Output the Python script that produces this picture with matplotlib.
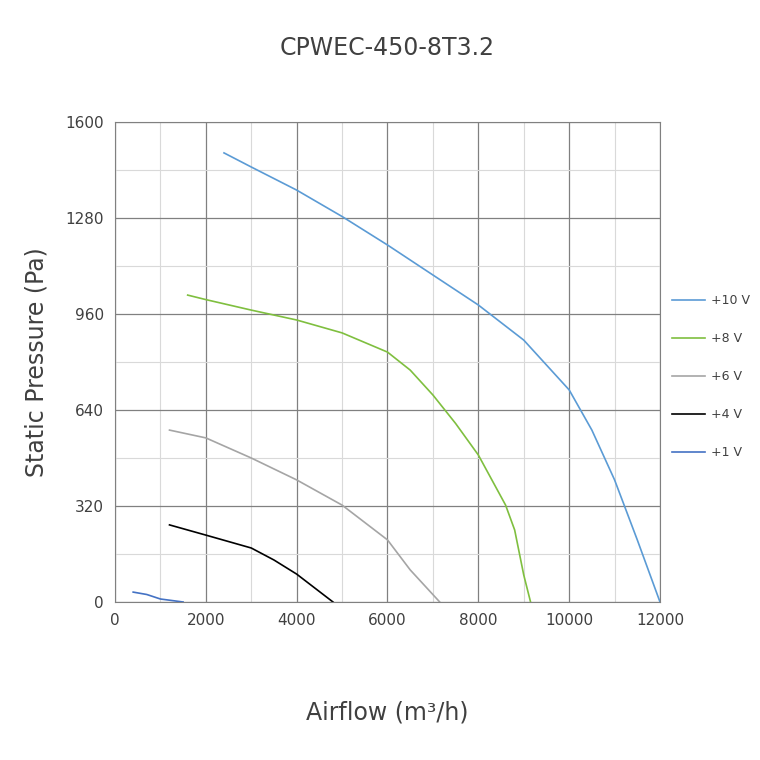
import matplotlib.pyplot as plt
from matplotlib.ticker import MultipleLocator

# Curve data (airflow m3/h, static pressure Pa)
x_10v = [2400, 3000, 4000, 5000, 6000, 7000, 8000, 9000, 10000, 10500, 11000, 11500, 12000]
y_10v = [1497, 1450, 1373, 1285, 1190, 1090, 990, 873, 707, 573, 407, 207, 0]
x_8v = [1600, 2000, 3000, 4000, 5000, 6000, 6500, 7000, 7500, 8000, 8600, 8800, 9000, 9150]
y_8v = [1023, 1008, 973, 940, 897, 833, 773, 690, 595, 490, 323, 240, 90, 0]
x_6v = [1200, 2000, 3000, 4000, 5000, 6000, 6500, 7150]
y_6v = [573, 547, 480, 407, 323, 207, 107, 0]
x_4v = [1200, 2000, 3000, 3500, 4000, 4800]
y_4v = [257, 223, 180, 140, 93, 0]
x_1v = [400, 700, 900, 1000, 1500]
y_1v = [33, 25, 15, 10, 0]

series = [
    (x_10v, y_10v, '+10 V', '#5b9bd5'),
    (x_8v, y_8v, '+8 V', '#7fbf3f'),
    (x_6v, y_6v, '+6 V', '#a5a5a5'),
    (x_4v, y_4v, '+4 V', '#000000'),
    (x_1v, y_1v, '+1 V', '#4472c4'),
]

fig = plt.figure(figsize=(7.6, 7.6), dpi=100)
ax = fig.add_axes([115 / 760, 1 - 602 / 760, 545 / 760, 480 / 760])

for xs, ys, label, color in series:
    ax.plot(xs, ys, color=color, lw=1.2, label=label)

ax.set_xlim(0, 12000)
ax.set_ylim(0, 1600)
ax.xaxis.set_major_locator(MultipleLocator(2000))
ax.xaxis.set_minor_locator(MultipleLocator(1000))
ax.yaxis.set_major_locator(MultipleLocator(320))
ax.yaxis.set_minor_locator(MultipleLocator(160))
ax.grid(which='major', color='#808080', lw=0.9)
ax.grid(which='minor', color='#d9d9d9', lw=0.8)
ax.set_axisbelow(True)
ax.tick_params(which='both', length=0, labelsize=11, colors='#404040', pad=8)
for s in ax.spines.values():
    s.set_color('#808080')

ax.set_title('CPWEC-450-8T3.2', fontsize=17, color='#404040', pad=48)
ax.set_xlabel('Airflow (m³/h)', fontsize=17, color='#404040', labelpad=52)
ax.set_ylabel('Static Pressure (Pa)', fontsize=17, color='#404040', labelpad=12)

ax.legend(loc='center left', bbox_to_anchor=(1.0, 0.47), frameon=False,
          fontsize=9, labelcolor='#404040', handlelength=2.6, handletextpad=0.5,
          borderaxespad=0.6, labelspacing=2.0)

fig.savefig('out.png')
